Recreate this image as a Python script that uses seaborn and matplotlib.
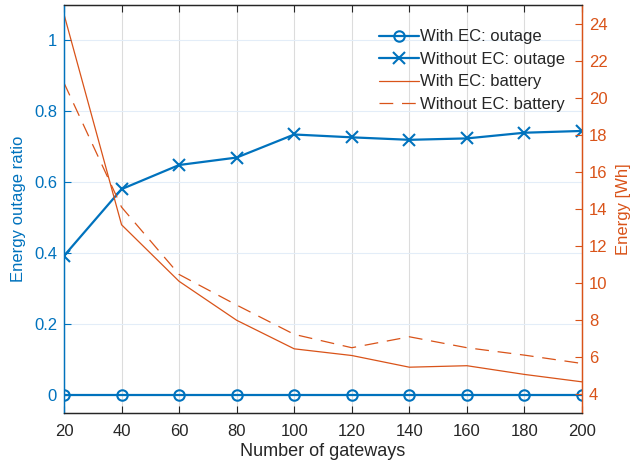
import matplotlib
matplotlib.use("Agg")
import matplotlib.pyplot as plt
import seaborn as sns
import pandas as pd
from matplotlib.lines import Line2D

gateways = [20, 40, 60, 80, 100, 120, 140, 160, 180, 200]
outage_with_ec = [0, 0, 0, 0, 0, 0, 0, 0, 0, 0]
outage_without_ec = [0.393, 0.581, 0.649, 0.670, 0.735, 0.727, 0.720, 0.724, 0.740, 0.745]
battery_with_ec = [24.5, 13.15, 10.1, 8.0, 6.46, 6.1, 5.47, 5.55, 5.08, 4.68]
battery_without_ec = [20.8, 14.1, 10.47, 8.82, 7.24, 6.52, 7.11, 6.52, 6.12, 5.67]

xticks = [20, 40, 60, 80, 100, 120, 140, 160, 180, 200]
left_ticks = [0, 0.2, 0.4, 0.6, 0.8, 1]
left_ticklabels = ["0", "0.2", "0.4", "0.6", "0.8", "1"]
right_ticks = [4, 6, 8, 10, 12, 14, 16, 18, 20, 22, 24]

labels = ["With EC: outage", "Without EC: outage", "With EC: battery", "Without EC: battery"]

BLUE = "#0072BD"
ORANGE = "#D95319"
DASH = (0, (11, 7))

sns.set_style("ticks")
plt.rcParams["font.family"] = ["Liberation Sans", "DejaVu Sans"]
plt.rcParams["font.size"] = 12

df = pd.DataFrame({
    "gw": gateways,
    "o_with": outage_with_ec,
    "o_without": outage_without_ec,
    "b_with": battery_with_ec,
    "b_without": battery_without_ec,
})

fig = plt.figure(figsize=(6.36, 4.72), dpi=100)
ax = fig.add_axes([64 / 636, 59 / 472, 518 / 636, 408 / 472])
ax2 = ax.twinx()

sns.lineplot(data=df, x="gw", y="o_with", ax=ax, color=BLUE, lw=1.6,
             marker="o", markersize=7.5, markerfacecolor="none",
             markeredgecolor=BLUE, markeredgewidth=1.5, zorder=3)
sns.lineplot(data=df, x="gw", y="o_without", ax=ax, color=BLUE, lw=1.6,
             marker="x", markersize=8, markeredgecolor=BLUE,
             markeredgewidth=1.5, zorder=3)
sns.lineplot(data=df, x="gw", y="b_with", ax=ax2, color=ORANGE, lw=0.9)
sns.lineplot(data=df, x="gw", y="b_without", ax=ax2, color=ORANGE, lw=0.9,
             linestyle=DASH)

ax.set_xlim(20, 200)
ax.set_ylim(-0.05, 1.1)
ax2.set_ylim(3, 25)
ax.set_xticks(xticks)
ax.set_yticks(left_ticks)
ax.set_yticklabels(left_ticklabels)
ax2.set_yticks(right_ticks)

ax.set_xlabel("Number of gateways", color="#262626", fontsize=13, labelpad=3)
ax.set_ylabel("Energy outage ratio", color=BLUE, fontsize=12, labelpad=6)
ax2.set_ylabel("Energy [Wh]", color=ORANGE, fontsize=12, labelpad=6)

# grid
for x in xticks:
    ax.axvline(x, color="#dcdcdc", lw=0.8, zorder=0)
for y in left_ticks:
    ax.axhline(y, color="#e3edf8", lw=0.8, zorder=0)

ax.tick_params(axis="x", direction="in", length=5, top=True, colors="#262626",
               labelsize=12, pad=8)
ax.tick_params(axis="y", direction="in", length=5, colors=BLUE, labelsize=12, pad=5)
ax2.tick_params(axis="y", direction="in", length=5, colors=ORANGE, labelsize=12, pad=5)

for s in ["top", "bottom"]:
    ax.spines[s].set_color("#262626")
    ax2.spines[s].set_color("#262626")
ax.spines["left"].set_color(BLUE)
ax2.spines["left"].set_color(BLUE)
ax.spines["right"].set_color(ORANGE)
ax2.spines["right"].set_color(ORANGE)
for a in (ax, ax2):
    for s in a.spines.values():
        s.set_linewidth(0.9)

handles = [
    Line2D([], [], color=BLUE, lw=1.6, marker="o", markersize=7.5,
           markerfacecolor="none", markeredgewidth=1.5),
    Line2D([], [], color=BLUE, lw=1.6, marker="x", markersize=8,
           markeredgewidth=1.5),
    Line2D([], [], color=ORANGE, lw=0.9),
    Line2D([], [], color=ORANGE, lw=0.9, linestyle=DASH),
]
if ax.get_legend():
    ax.get_legend().remove()
if ax2.get_legend():
    ax2.get_legend().remove()
ax2.legend(handles, labels, loc="upper right", bbox_to_anchor=(0.968, 0.94),
           frameon=False, fontsize=12, handlelength=2.4, handletextpad=0.1,
           labelspacing=0.45, borderpad=0, borderaxespad=0)

fig.savefig("out.png", dpi=100)
